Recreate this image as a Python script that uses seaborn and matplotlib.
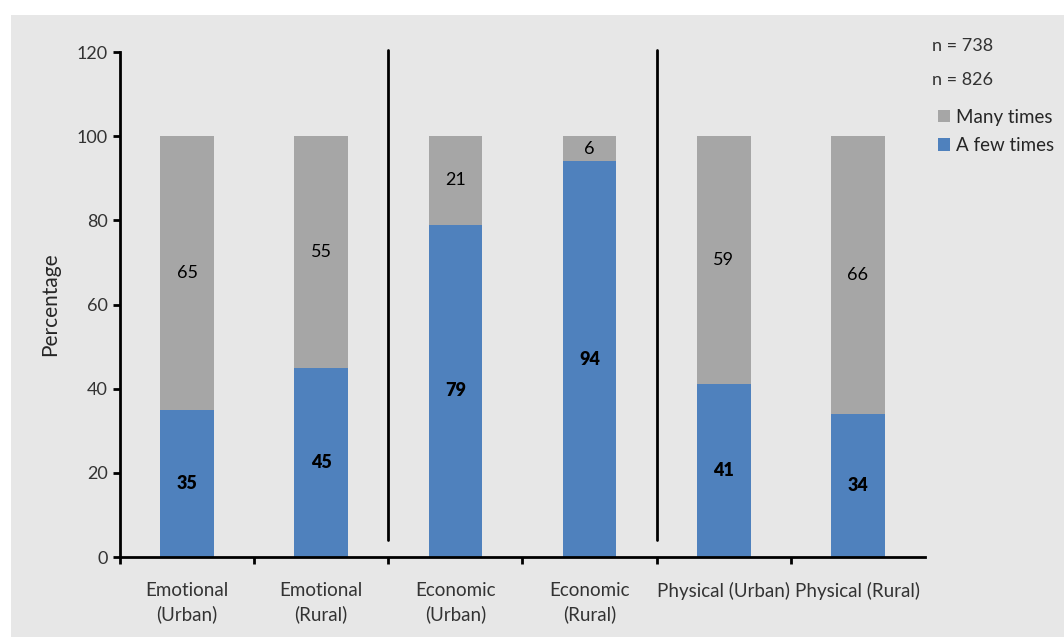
import matplotlib
matplotlib.use("Agg")
import matplotlib.pyplot as plt
import seaborn as sns
import pandas as pd
from matplotlib.patches import Rectangle, Patch

categories = ["Emotional\n(Urban)", "Emotional\n(Rural)", "Economic\n(Urban)",
              "Economic\n(Rural)", "Physical (Urban)", "Physical (Rural)"]
few_times = [35, 45, 79, 94, 41, 34]
many_times = [65, 55, 21, 6, 59, 66]
n_labels = ["n = 738", "n = 826"]
series_names = ["Many times", "A few times"]

BLUE = "#4f81bd"
GREY = "#a6a6a6"
BG = "#e7e7e7"

sns.set_theme(style="white")
plt.rcParams["font.family"] = ["Lato", "DejaVu Sans"]

df = pd.DataFrame({"cat": categories, "few": few_times, "many": many_times})
df["total"] = df["few"] + df["many"]

fig = plt.figure(figsize=(10.64, 6.37), dpi=100)
fig.patch.set_facecolor("white")
fig.patches.append(Rectangle((11 / 1064, 0), 1 - 11 / 1064, 1 - 15 / 637,
                             transform=fig.transFigure, facecolor=BG,
                             edgecolor="none", zorder=-10))
ax = fig.add_axes([120 / 1064, 80 / 637, 805 / 1064, 505 / 637])
ax.set_facecolor(BG)

sns.barplot(data=df, x="cat", y="total", color=GREY, width=0.4, ax=ax,
            saturation=1, edgecolor="none")
sns.barplot(data=df, x="cat", y="few", color=BLUE, width=0.4, ax=ax,
            saturation=1, edgecolor="none")

for i, (f, m) in enumerate(zip(few_times, many_times)):
    ax.text(i, f / 2, str(f), ha="center", va="center", fontsize=13,
            fontweight="heavy", color="black")
    ax.text(i, f + m / 2, str(m), ha="center", va="center", fontsize=13,
            color="black")

ax.set_xlim(-0.5, len(categories) - 0.5)
ax.set_ylim(0, 120)
ax.set_yticks(range(0, 121, 20))
ax.set_ylabel("Percentage", fontsize=15, labelpad=12)
ax.set_xlabel("")

for s in ["top", "right"]:
    ax.spines[s].set_visible(False)
for s in ["left", "bottom"]:
    ax.spines[s].set_color("black")
    ax.spines[s].set_linewidth(2)

ax.tick_params(axis="y", direction="out", length=5, width=2, color="black",
               labelsize=13, labelcolor="#333333", pad=4, left=True)
ax.tick_params(axis="x", which="major", length=0, labelsize=13.5,
               labelcolor="#333333", pad=18)
for lbl in ax.get_xticklabels():
    lbl.set_linespacing(1.45)
ax.set_xticks([i - 0.5 for i in range(len(categories))], minor=True)
ax.tick_params(axis="x", which="minor", direction="out", length=5, width=2,
               color="black", bottom=True)

for xv in [1.5, 3.5]:
    ax.plot([xv, xv], [4, 120.5], color="black", lw=2, clip_on=False)

fig.text(932 / 1064, 1 - 46 / 637, n_labels[0], fontsize=13, color="#333333",
         va="center", ha="left")
fig.text(932 / 1064, 1 - 80 / 637, n_labels[1], fontsize=13, color="#333333",
         va="center", ha="left")
handles = [Patch(facecolor=GREY, edgecolor="none"),
           Patch(facecolor=BLUE, edgecolor="none")]
fig.legend(handles, series_names, loc="upper left",
           bbox_to_anchor=(934 / 1064, 1 - 105 / 637), frameon=False,
           fontsize=13.5, handlelength=0.65, handleheight=0.65, handletextpad=0.3,
           labelspacing=0.6, borderaxespad=0, borderpad=0.2)

fig.savefig("out.png", dpi=100, facecolor=fig.get_facecolor())
